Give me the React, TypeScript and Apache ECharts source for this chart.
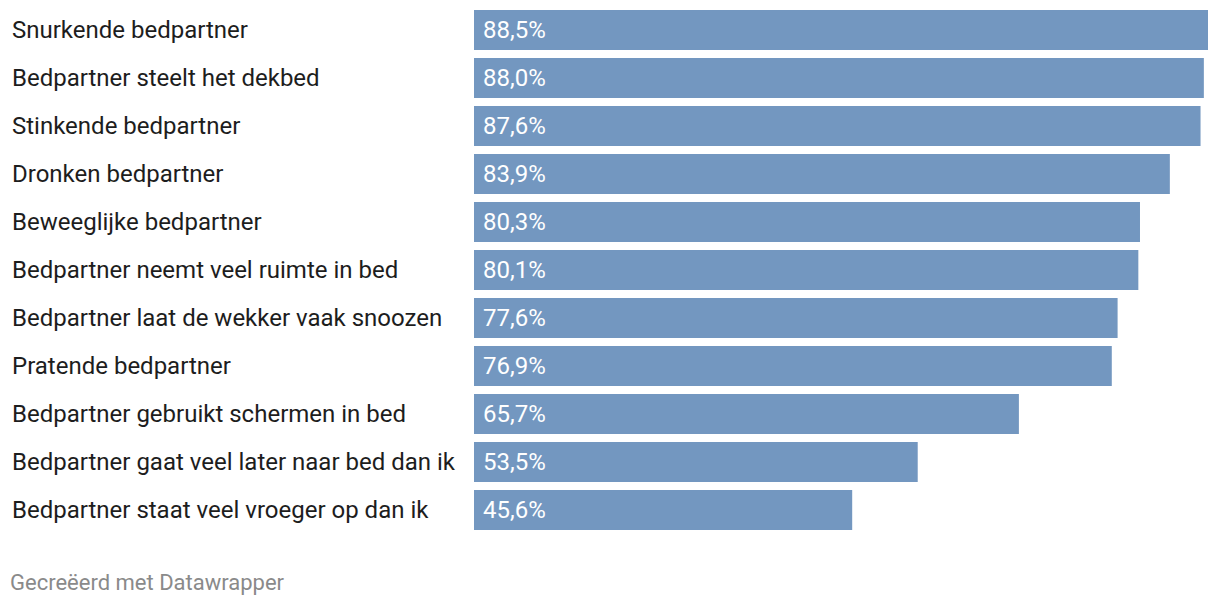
import React, { useEffect, useRef } from "react";
import * as echarts from "echarts";

const categories = [
  "Snurkende bedpartner",
  "Bedpartner steelt het dekbed",
  "Stinkende bedpartner",
  "Dronken bedpartner",
  "Beweeglijke bedpartner",
  "Bedpartner neemt veel ruimte in bed",
  "Bedpartner laat de wekker vaak snoozen",
  "Pratende bedpartner",
  "Bedpartner gebruikt schermen in bed",
  "Bedpartner gaat veel later naar bed dan ik",
  "Bedpartner staat veel vroeger op dan ik",
];
const values = [88.5, 88.0, 87.6, 83.9, 80.3, 80.1, 77.6, 76.9, 65.7, 53.5, 45.6];
const footerText = "Gecreëerd met Datawrapper";

export default function App() {
  const ref = useRef<HTMLDivElement>(null);
  useEffect(() => {
    document.body.style.margin = "0";
    const chart = echarts.init(ref.current!, null, { renderer: "svg" });
    chart.setOption({
      animation: false,
      grid: { left: 474, right: 12, top: 6, height: 528, containLabel: false },
      xAxis: {
        type: "value",
        min: 0,
        max: 88.5,
        show: false,
      },
      yAxis: {
        type: "category",
        data: categories,
        inverse: true,
        axisLine: { show: false },
        axisTick: { show: false },
        splitLine: { show: false },
        axisLabel: {
          align: "left",
          margin: 462,
          fontFamily: "Roboto",
          fontSize: 24,
          color: "#1d1d1d",
        },
      },
      series: [
        {
          type: "bar",
          data: values,
          barWidth: 40,
          itemStyle: { color: "#7397c0" },
          label: {
            show: true,
            position: "insideLeft",
            distance: 9,
            fontFamily: "Roboto",
            fontSize: 24,
            color: "#ffffff",
            formatter: (p: any) => p.value.toFixed(1).replace(".", ",") + "%",
          },
        },
      ],
      graphic: [
        {
          type: "text",
          left: 10,
          top: 571,
          style: {
            text: footerText,
            fontFamily: "Roboto",
            fontSize: 22,
            fill: "#8a8a8a",
          },
        },
      ],
    });
    return () => chart.dispose();
  }, []);
  return <div ref={ref} style={{ width: 1220, height: 606 }} />;
}
